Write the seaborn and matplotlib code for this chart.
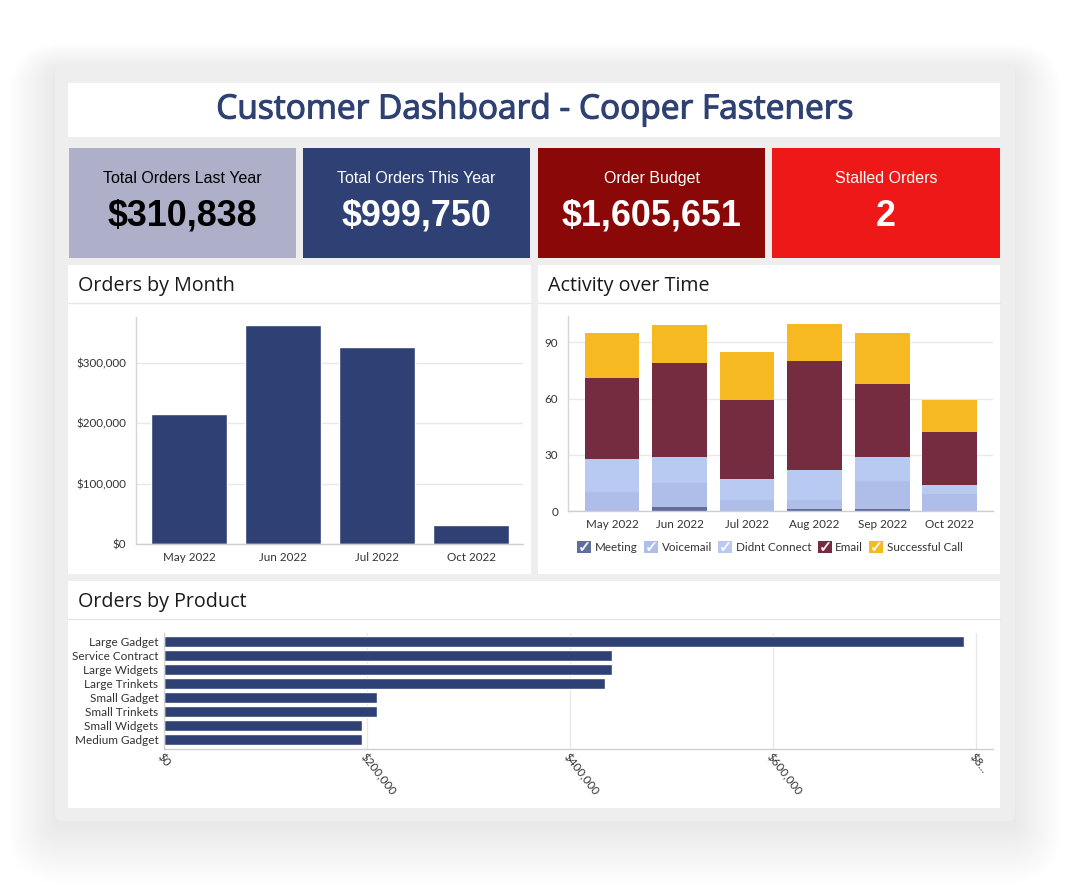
import matplotlib
matplotlib.use("Agg")
import matplotlib.pyplot as plt
import matplotlib.patheffects as pe
import seaborn as sns
import pandas as pd
from matplotlib.patches import FancyBboxPatch, Rectangle, Patch
from matplotlib.lines import Line2D
from matplotlib.ticker import FuncFormatter, FixedLocator

# ---------------- data ----------------
title = "Customer Dashboard - Cooper Fasteners"
kpi_labels = ["Total Orders Last Year", "Total Orders This Year", "Order Budget", "Stalled Orders"]
kpi_values = ["$310,838", "$999,750", "$1,605,651", "2"]

month_labels = ["May 2022", "Jun 2022", "Jul 2022", "Oct 2022"]
month_orders = [216000, 362000, 326000, 31000]
month_ticks = [0, 100000, 200000, 300000]

activity_months = ["May 2022", "Jun 2022", "Jul 2022", "Aug 2022", "Sep 2022", "Oct 2022"]
activity_types = ["Meeting", "Voicemail", "Didnt Connect", "Email", "Successful Call"]
meeting = [0, 2, 0, 1, 1, 0]
voicemail = [10, 13, 6, 5, 15, 9]
didnt_connect = [18, 14, 11, 16, 13, 5]
email = [43, 50, 42, 58, 39, 28]
successful_call = [24, 20, 26, 20, 27, 17]
activity_ticks = [0, 30, 60, 90]

products = ["Large Gadget", "Service Contract", "Large Widgets", "Large Trinkets",
            "Small Gadget", "Small Trinkets", "Small Widgets", "Medium Gadget"]
product_orders = [788000, 442000, 442000, 435000, 210000, 210000, 195000, 195000]
product_ticks = [0, 200000, 400000, 600000, 800000]
product_tick_labels = ["$0", "$200,000", "$400,000", "$600,000", "$8..."]

# ---------------- style ----------------
NAVY = "#2f4174"
KPI_BG = ["#adb0c8", "#2f4174", "#8b0808", "#ee1818"]
KPI_FG = ["#000000", "#ffffff", "#ffffff", "#ffffff"]
ACT_COLORS = {"Meeting": "#5f6e9c", "Voicemail": "#afbee8", "Didnt Connect": "#b9caf2",
              "Email": "#752c41", "Successful Call": "#f7b922"}
TICK_COLOR = "#333333"
GRID = "#e8e8e8"
TS = 8.4
KPI_FAMILY = ["Liberation Sans", "DejaVu Sans"]

sns.set_theme(style="white")
plt.rcParams["font.family"] = ["Lato", "DejaVu Sans"]

W, H = 1070, 886
fig = plt.figure(figsize=(W / 100, H / 100), dpi=100)
fig.patch.set_facecolor("white")

# background canvas in pixel coordinates
bg = fig.add_axes([0, 0, 1, 1], zorder=0)
bg.set_xlim(0, W)
bg.set_ylim(H, 0)
bg.axis("off")

# soft shadow around frame
fx0, fy0, fx1, fy1 = 55, 65, 1015, 821
for i in range(22):
    pad = 1 + i * 2.2
    bg.add_patch(FancyBboxPatch((fx0 - pad, fy0 - pad * 0.6 + 6), (fx1 - fx0) + 2 * pad,
                                (fy1 - fy0) + pad * 1.8,
                                boxstyle="round,pad=0,rounding_size=%f" % (8 + pad),
                                facecolor="#000000", edgecolor="none", alpha=0.0024))
bg.add_patch(FancyBboxPatch((fx0, fy0), fx1 - fx0, fy1 - fy0,
                            boxstyle="round,pad=0,rounding_size=8",
                            facecolor="#eeeeee", edgecolor="none"))


def panel(x0, y0, x1, y1, color="white"):
    bg.add_patch(Rectangle((x0, y0), x1 - x0, y1 - y0, facecolor=color, edgecolor="none"))


# title panel
panel(68, 83, 1000, 137)
bg.text(535, 110, title, ha="center", va="center", fontsize=24.1, color="#2e4172",
        family=["Open Sans", "DejaVu Sans"],
        path_effects=[pe.withStroke(linewidth=0.8, foreground="#2e4172")])

# KPI cards
cards = [(69, 296), (303, 530), (538, 765), (772, 1000)]
for (cx0, cx1), lab, val, bgc, fgc in zip(cards, kpi_labels, kpi_values, KPI_BG, KPI_FG):
    panel(cx0, 148, cx1, 258, bgc)
    cxm = (cx0 + cx1) / 2
    bg.text(cxm, 178, lab, ha="center", va="center", fontsize=11.5, color=fgc,
            family=KPI_FAMILY)
    bg.text(cxm, 216, val, ha="center", va="center", fontsize=25.8, color=fgc,
            fontweight="bold", family=KPI_FAMILY)

# chart panels
for (x0, y0, x1, y1, head) in [(68, 265, 531, 574, "Orders by Month"),
                              (538, 265, 1000, 574, "Activity over Time"),
                              (68, 581, 1000, 808, "Orders by Product")]:
    panel(x0, y0, x1, y1)
    bg.plot([x0, x1], [y0 + 38, y0 + 38], color="#e6e6e6", lw=1)
    bg.text(x0 + 10, y0 + 21, head, ha="left", va="center", fontsize=14.2, color="#1a1a1a",
            family=["Open Sans", "DejaVu Sans"])


def add_ax(x0, y0, x1, y1):
    ax = fig.add_axes([x0 / W, 1 - y1 / H, (x1 - x0) / W, (y1 - y0) / H], zorder=2)
    ax.set_facecolor("none")
    return ax


def style_ax(ax):
    for s in ["top", "right"]:
        ax.spines[s].set_visible(False)
    ax.spines["left"].set_color("#d6d6d6")
    ax.spines["bottom"].set_color("#cfcfcf")
    ax.spines["left"].set_linewidth(1)
    ax.spines["bottom"].set_linewidth(1)
    ax.tick_params(length=0, colors=TICK_COLOR, labelsize=TS)
    ax.set_xlabel("")
    ax.set_ylabel("")


# ---------------- Orders by Month ----------------
ax1 = add_ax(136, 317, 523, 544)
sns.barplot(x=month_labels, y=month_orders, color=NAVY, saturation=1, width=0.81, ax=ax1)
ax1.set_xlim(-0.564, 3.553)
ax1.set_ylim(0, 376000)
ax1.yaxis.set_major_locator(FixedLocator(month_ticks))
ax1.yaxis.set_major_formatter(FuncFormatter(lambda v, p: "${:,.0f}".format(v)))
ax1.grid(axis="y", color=GRID, lw=1)
ax1.set_axisbelow(True)
style_ax(ax1)
ax1.tick_params(axis="y", pad=7)
ax1.tick_params(axis="x", pad=6)

# ---------------- Activity over Time ----------------
ax2 = add_ax(568, 316, 993, 511)
rows = []
series = {"Meeting": meeting, "Voicemail": voicemail, "Didnt Connect": didnt_connect,
          "Email": email, "Successful Call": successful_call}
for t in activity_types:
    for i, v in enumerate(series[t]):
        rows.append({"idx": i, "type": t, "count": v})
act_df = pd.DataFrame(rows)
sns.histplot(data=act_df, x="idx", weights="count", hue="type",
             hue_order=activity_types[::-1], multiple="stack", discrete=True, shrink=0.81,
             palette=ACT_COLORS, alpha=1, linewidth=0, legend=False, ax=ax2)
ax2.set_xlim(-0.652, 5.64)
ax2.set_ylim(0, 104)
ax2.xaxis.set_major_locator(FixedLocator(range(len(activity_months))))
ax2.set_xticklabels(activity_months)
ax2.yaxis.set_major_locator(FixedLocator(activity_ticks))
ax2.grid(axis="y", color=GRID, lw=1)
ax2.set_axisbelow(True)
style_ax(ax2)
ax2.tick_params(axis="y", pad=7)
ax2.tick_params(axis="x", pad=6)

handles = []
for t in activity_types:
    sq = Patch(facecolor=ACT_COLORS[t], edgecolor="none")
    ck = Line2D([], [], marker="$\u2713$", color="white", markersize=6, linestyle="none",
                markeredgewidth=0.3)
    handles.append((sq, ck))
leg = fig.legend(handles, activity_types, loc="center", bbox_to_anchor=(770 / W, 1 - 547 / H),
                 ncol=5, frameon=False, fontsize=TS, handlelength=1.2, handleheight=1.2,
                 handletextpad=0.3, columnspacing=0.55, borderaxespad=0)
for txt in leg.get_texts():
    txt.set_color(TICK_COLOR)

# ---------------- Orders by Product ----------------
ax3 = add_ax(164, 633, 993, 749)
sns.barplot(x=product_orders, y=products, orient="h", color=NAVY, saturation=1, width=0.8, ax=ax3)
ax3.set_ylim(7.69, -0.61)
ax3.set_xlim(0, 817000)
ax3.xaxis.set_major_locator(FixedLocator(product_ticks))
ax3.set_xticklabels(product_tick_labels)
ax3.grid(axis="x", color=GRID, lw=1)
ax3.set_axisbelow(True)
style_ax(ax3)
ax3.tick_params(axis="y", pad=4, labelsize=8.5)
ax3.tick_params(axis="x", pad=2)
for lbl in ax3.get_xticklabels():
    lbl.set_rotation(-52)
    lbl.set_ha("left")
    lbl.set_va("top")
    lbl.set_rotation_mode("anchor")

fig.savefig("out.png", dpi=100, facecolor="white")
